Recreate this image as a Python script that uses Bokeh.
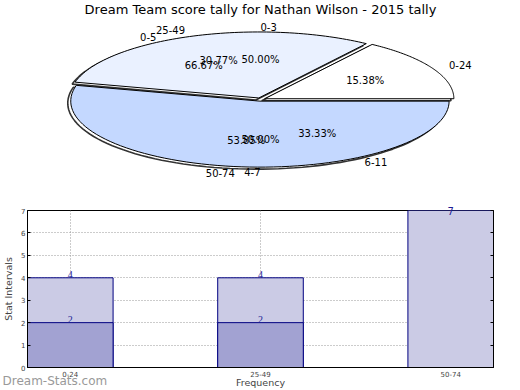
import numpy as np
from bokeh.plotting import figure
from bokeh.models import Range1d, ColumnDataSource, Label, LabelSet, FixedTicker, LinearAxis, Title
from bokeh.layouts import column
from bokeh.embed import file_html
from bokeh.resources import INLINE
from bokeh.core.properties import value

# ---------------- data ----------------
title_text = "Dream Team score tally for Nathan Wilson - 2015 tally"
categories = ["0-24", "25-49", "50-74"]
pie_counts = [2, 4, 7]
pie_colors = ["#ffffff", "#eaf1ff", "#c4d8ff"]
pie2_labels = ["0-5", "6-11"]
pie2_counts = [2, 1]
pie3_labels = ["0-3", "4-7"]
pie3_counts = [1, 1]
bar_light = [4, 4, 7]
bar_dark = [2, 2, 0]
y_ticks = [0, 1, 2, 3, 4, 5, 6, 7]
x_label = "Frequency"
y_label = "Stat Intervals"
watermark = "Dream-Stats.com"

FONT = value("DejaVu Sans")

# ---------------- layout constants ----------------
W, H1, H2 = 520, 198, 192
FL, FR = 25, 493            # frame left / right (page px), shared by both figures
CX, CY, RX, RY = 259, 99, 190, 66
EXPL = 0.025

# ---------------- pie figure ----------------
p1 = figure(width=W, height=H1, x_range=Range1d(FL, FR), y_range=Range1d(H1, 0),
            output_backend="svg", toolbar_location=None,
            min_border_left=FL, min_border_right=W - FR, min_border_top=0, min_border_bottom=0,
            x_axis_location=None, y_axis_location=None)
p1.grid.visible = False
p1.outline_line_color = None
p1.background_fill_color = "white"

p1.text(x=[CX], y=[1], text=[title_text], text_align="center", text_baseline="top",
        text_font=FONT, text_font_size="13px", text_color="#000000")


def pie_geometry(counts, expl):
    counts = np.asarray(counts, dtype=float)
    fr = counts / counts.sum()
    edges = np.concatenate([[0.0], np.cumsum(fr)]) * 2 * np.pi
    out = []
    for i in range(len(counts)):
        a0, a1 = edges[i], edges[i + 1]
        mid = 0.5 * (a0 + a1)
        ox = CX + expl * RX * np.cos(mid)
        oy = CY - expl * RY * np.sin(mid)
        t = np.linspace(a0, a1, 80)
        xs = np.concatenate([[ox], ox + RX * np.cos(t), [ox]])
        ys = np.concatenate([[oy], oy - RY * np.sin(t), [oy]])
        out.append(dict(frac=fr[i], mid=mid, ox=ox, oy=oy, xs=xs, ys=ys))
    return out


def pie_labels(geo, labels):
    px, py, pt = [], [], []
    for g, lab in zip(geo, labels):
        c, s = np.cos(g["mid"]), np.sin(g["mid"])
        p1.text(x=[g["ox"] + 1.1 * RX * c], y=[g["oy"] - 1.1 * RY * s], text=[lab],
                text_align="left" if c > 0 else "right", text_baseline="middle",
                text_font=FONT, text_font_size="10px", text_color="#000000")
        px.append(g["ox"] + 0.6 * RX * c)
        py.append(g["oy"] - 0.6 * RY * s)
        pt.append("%.2f%%" % (100 * g["frac"]))
    p1.text(x=px, y=py, text=pt, text_align="center", text_baseline="middle",
            text_font=FONT, text_font_size="10px", text_color="#000000")


geo1 = pie_geometry(pie_counts, EXPL)
p1.patches(xs=[list(g["xs"] - 3) for g in geo1], ys=[list(g["ys"] + 2) for g in geo1],
           fill_color="white", line_color="#333333", line_width=1.6)
p1.patches(xs=[list(g["xs"]) for g in geo1], ys=[list(g["ys"]) for g in geo1],
           fill_color=pie_colors, line_color="#000000", line_width=1)

pie_labels(geo1, categories)
pie_labels(pie_geometry(pie2_counts, 0.0), pie2_labels)
pie_labels(pie_geometry(pie3_counts, 0.0), pie3_labels)

# ---------------- bar figure ----------------
xi = list(range(len(categories)))
YMAX = max(y_ticks)
p2 = figure(width=W, height=H2, x_range=Range1d(-0.225, 2.225), y_range=Range1d(0, YMAX),
            output_backend="svg", toolbar_location=None,
            min_border_left=FL, min_border_right=W - FR, min_border_top=12, min_border_bottom=23)
p2.outline_line_color = "#000000"
p2.outline_line_width = 1

p2.xaxis.ticker = FixedTicker(ticks=xi)
p2.xaxis.major_label_overrides = {i: c for i, c in zip(xi, categories)}
p2.xaxis.major_label_text_font = "DejaVu Sans"
p2.xaxis.major_label_text_font_size = "7px"
p2.xaxis.major_label_standoff = 3
p2.xaxis.major_tick_in = 0
p2.xaxis.major_tick_out = 0
p2.xaxis.minor_tick_line_color = None
p2.xaxis.axis_line_color = "#000000"
p2.xaxis.axis_label = x_label
p2.xaxis.axis_label_text_font = "DejaVu Sans"
p2.xaxis.axis_label_text_font_size = "9.5px"
p2.xaxis.axis_label_text_font_style = "normal"
p2.xaxis.axis_label_standoff = -3

p2.yaxis.ticker = FixedTicker(ticks=y_ticks)
p2.yaxis.major_label_text_font = "DejaVu Sans"
p2.yaxis.major_label_text_font_size = "7px"
p2.yaxis.major_label_standoff = 2
p2.yaxis.major_tick_in = 3
p2.yaxis.major_tick_out = 0
p2.yaxis.minor_tick_line_color = None
p2.yaxis.axis_line_color = "#000000"
p2.yaxis.axis_label = y_label
p2.yaxis.axis_label_text_font = "DejaVu Sans"
p2.yaxis.axis_label_text_font_size = "9.5px"
p2.yaxis.axis_label_text_font_style = "normal"
p2.yaxis.axis_label_standoff = 4

raxis = LinearAxis(ticker=FixedTicker(ticks=y_ticks), major_label_text_color=None,
                   major_label_text_font_size="7px",
                   major_tick_in=3, major_tick_out=0, minor_tick_line_color=None,
                   axis_line_color="#000000", major_label_standoff=0)
p2.add_layout(raxis, "right")

for g in (p2.xgrid, p2.ygrid):
    g.grid_line_color = "#999999"
    g.grid_line_dash = "1 2"
    g.grid_line_width = 1
p2.xgrid.ticker = FixedTicker(ticks=xi)
p2.ygrid.ticker = FixedTicker(ticks=y_ticks)

src_light = ColumnDataSource(dict(x=xi, top=bar_light))
src_dark = ColumnDataSource(dict(x=xi, top=bar_dark))
p2.vbar(x="x", top="top", width=0.45, source=src_light, fill_color="#cbcbe5",
        line_color="#000080", line_width=1)
p2.vbar(x="x", top="top", width=0.45, source=src_dark, fill_color="#a2a2d2",
        line_color="#000080", line_width=1)

# value labels: inside the frame via LabelSet, the one at the top edge via a panel label
lab_x, lab_y, lab_t = [], [], []
for series in (bar_light, bar_dark):
    for x, v in zip(xi, series):
        if v <= 0:
            continue
        if v < YMAX:
            lab_x.append(x); lab_y.append(v); lab_t.append(str(v))
        else:
            p2.add_layout(Label(x=x, y=v, text=str(v), text_align="center",
                                text_baseline="alphabetic", text_font="DejaVu Sans",
                                text_font_size="10px", text_color="#1c1c96"), "above")
p2.add_layout(LabelSet(x="x", y="y", text="t", source=ColumnDataSource(dict(x=lab_x, y=lab_y, t=lab_t)),
                       text_align="center", text_baseline="alphabetic", text_font="DejaVu Sans",
                       text_font_size="10px", text_color="#1c1c96"))

# watermark: a below-panel title that takes no room (negative standoff pulls it up)
p2.add_layout(Title(text=watermark, align="left", offset=-FL, standoff=-34,
                    vertical_align="top", text_font="DejaVu Sans", text_font_size="12px",
                    text_font_style="normal", text_color="#999999"), "below")

layout = column(p1, p2, spacing=0)
open("out.html", "w").write(file_html(layout, INLINE))
